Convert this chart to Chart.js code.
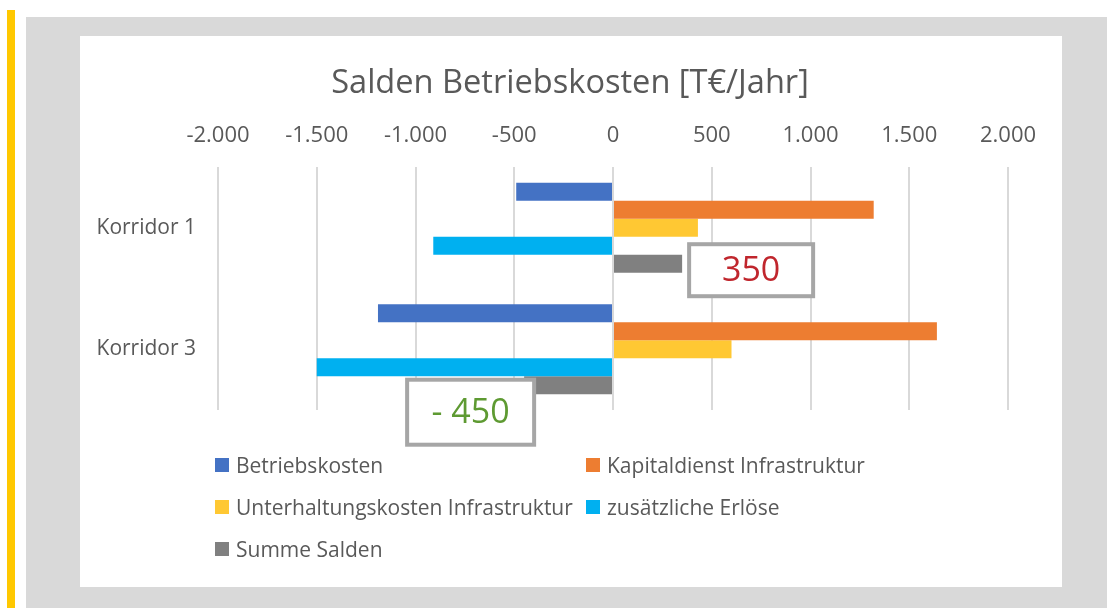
<!DOCTYPE html>
<html>
<head>
<meta charset="utf-8">
<script src="https://cdn.jsdelivr.net/npm/chart.js@4.4.1/dist/chart.umd.min.js"></script>
<style>
  body { margin: 0; width: 1107px; height: 608px; background: #fff; position: relative; overflow: hidden; font-family: 'Open Sans', sans-serif; }
  #stripe { position: absolute; left: 7px; top: 10px; width: 8px; height: 598px; background: #ffc800; }
  #frame { position: absolute; left: 26px; top: 17px; width: 1081px; height: 591px; background: #d9d9d9; }
  #card { position: absolute; left: 80px; top: 36px; width: 982px; height: 551px; background: #fff; }
  #card canvas { position: absolute; left: 0; top: 0; }
  #legend { position: absolute; left: 135px; top: 408px; display: grid; grid-template-columns: 371px auto; grid-auto-rows: 42px; }
  .item { display: flex; align-items: center; font-size: 21px; color: #595959; white-space: nowrap; }
  .box { width: 14px; height: 14px; margin-right: 7px; }
</style>
</head>
<body>
<div id="stripe"></div>
<div id="frame"></div>
<div id="card">
  <canvas id="saldenChart" width="982" height="551"></canvas>
  <div id="legend"></div>
</div>
<script>
const chartTitle = 'Salden Betriebskosten [T€/Jahr]';
const categories = ['Korridor 1', 'Korridor 3'];
const seriesNames = ['Betriebskosten', 'Kapitaldienst Infrastruktur', 'Unterhaltungskosten Infrastruktur', 'zusätzliche Erlöse', 'Summe Salden'];
const betriebskosten = [-490, -1190];
const kapitaldienst = [1320, 1640];
const unterhaltung = [430, 600];
const erloese = [-910, -1500];
const summe = [350, -450];
const xTicks = [-2000, -1500, -1000, -500, 0, 500, 1000, 1500, 2000];
const colors = ['#4472c4', '#ed7d31', '#ffc833', '#00b0f0', '#808080'];

const seriesValues = [betriebskosten, kapitaldienst, unterhaltung, erloese, summe];

function fmt(v) {
  return v.toLocaleString('de-DE');
}

// title centred on the whole card (the built-in one centres on the padded box)
const cardTitle = {
  id: 'cardTitle',
  afterDraw(chart) {
    const ctx = chart.ctx;
    ctx.save();
    ctx.fillStyle = '#595959';
    ctx.font = '32.6px "Open Sans"';
    ctx.textAlign = 'center';
    ctx.textBaseline = 'middle';
    ctx.fillText(chartTitle, chart.width / 2 - 1, 47.5);
    ctx.restore();
  }
};

// text boxes next to the "Summe Salden" bars
const sumBoxes = {
  id: 'sumBoxes',
  afterDatasetsDraw(chart) {
    const ctx = chart.ctx;
    const meta = chart.getDatasetMeta(4);
    meta.data.forEach((bar, i) => {
      const v = summe[i];
      let x, y, w, h;
      if (v >= 0) {
        w = 124; h = 52;
        x = bar.x + 7; y = bar.y - 19.5;
      } else {
        w = 127; h = 65;
        x = bar.x + 10 - w; y = bar.y - 5.5;
      }
      ctx.save();
      ctx.fillStyle = '#fff';
      ctx.strokeStyle = '#a6a6a6';
      ctx.lineWidth = 4;
      ctx.fillRect(x, y, w, h);
      ctx.strokeRect(x, y, w, h);
      ctx.fillStyle = v >= 0 ? '#c0262d' : '#5e9a32';
      ctx.font = '34px "Open Sans"';
      ctx.textAlign = 'center';
      ctx.textBaseline = 'middle';
      const label = v < 0 ? '- ' + Math.abs(v) : String(v);
      ctx.fillText(label, x + w / 2, y + h / 2 + 1);
      ctx.restore();
    });
  }
};

const ctx = document.getElementById('saldenChart').getContext('2d');
const chart = new Chart(ctx, {
  type: 'bar',
  data: {
    labels: categories,
    datasets: seriesNames.map((name, i) => ({
      label: name,
      data: seriesValues[i],
      backgroundColor: colors[i],
      borderWidth: 0,
      categoryPercentage: 0.74,
      barPercentage: 1.0
    }))
  },
  options: {
    indexAxis: 'y',
    responsive: false,
    animation: false,
    layout: { padding: { left: 0, right: 54, top: 67.6, bottom: 177 } },
    plugins: {
      legend: { display: false },
      tooltip: { enabled: false },
      title: { display: false }
    },
    scales: {
      x: {
        position: 'top',
        min: -2000,
        max: 2000,
        afterBuildTicks(scale) {
          scale.ticks = xTicks.map(v => ({ value: v }));
        },
        afterFit(scale) { scale.height = 131 - 67.6; },
        ticks: {
          color: '#595959',
          font: { family: 'Open Sans', size: 22 },
          padding: 18,
          callback: v => fmt(v)
        },
        grid: { color: '#d9d9d9', lineWidth: 2, drawTicks: false },
        border: { display: false }
      },
      y: {
        afterFit(scale) { scale.width = 138; },
        ticks: {
          color: '#595959',
          font: { family: 'Open Sans', size: 21 },
          padding: 22
        },
        grid: { display: false, drawTicks: false },
        border: { display: false }
      }
    }
  },
  plugins: [cardTitle, sumBoxes]
});

const legend = document.getElementById('legend');
chart.data.datasets.forEach(ds => {
  const item = document.createElement('div');
  item.className = 'item';
  const box = document.createElement('span');
  box.className = 'box';
  box.style.background = ds.backgroundColor;
  item.appendChild(box);
  item.appendChild(document.createTextNode(ds.label));
  legend.appendChild(item);
});
</script>
</body>
</html>
